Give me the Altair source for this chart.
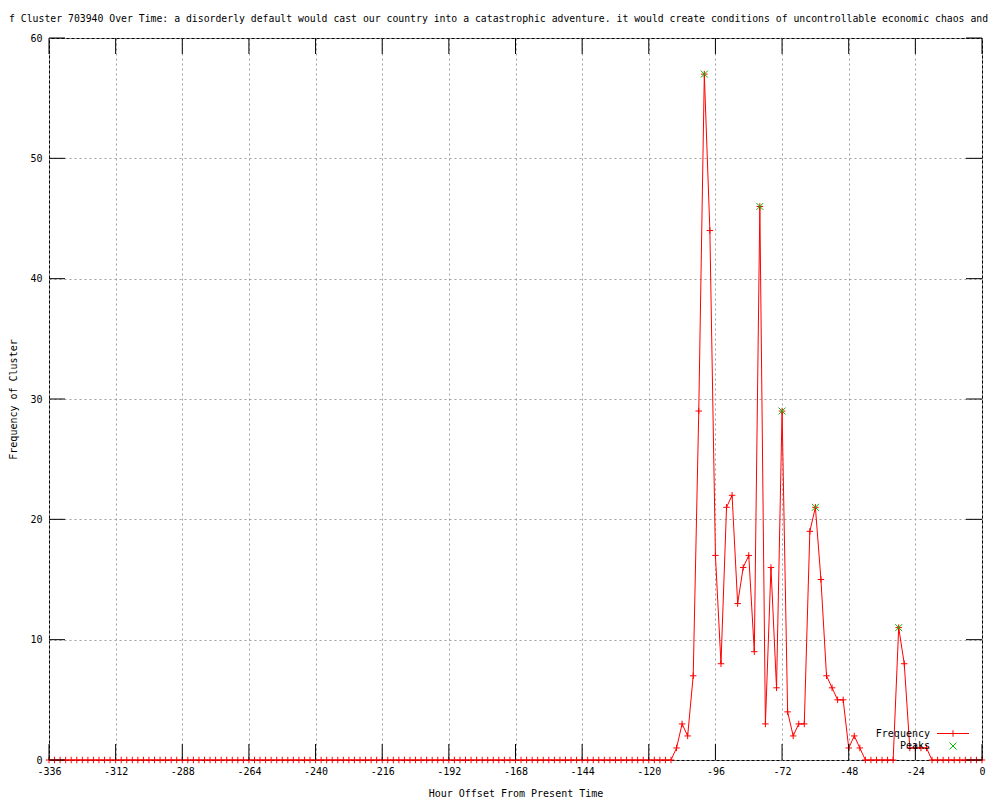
import altair as alt
import pandas as pd

# ---- data (2-hour bins) ----
hours = list(range(-336, 1, 2))
freq = [
    0, 0, 0, 0, 0, 0, 0, 0, 0, 0, 0, 0, 0, 0, 0, 0, 0, 0, 0, 0,
    0, 0, 0, 0, 0, 0, 0, 0, 0, 0, 0, 0, 0, 0, 0, 0, 0, 0, 0, 0,
    0, 0, 0, 0, 0, 0, 0, 0, 0, 0, 0, 0, 0, 0, 0, 0, 0, 0, 0, 0,
    0, 0, 0, 0, 0, 0, 0, 0, 0, 0, 0, 0, 0, 0, 0, 0, 0, 0, 0, 0,
    0, 0, 0, 0, 0, 0, 0, 0, 0, 0, 0, 0, 0, 0, 0, 0, 0, 0, 0, 0,
    0, 0, 0, 0, 0, 0, 0, 0, 0, 0, 0, 0, 0,
    1, 3, 2, 7, 29, 57, 44, 17, 8, 21, 22, 13, 16, 17, 9, 46, 3, 16, 6, 29,
    4, 2, 3, 3, 19, 21, 15, 7, 6, 5, 5, 1, 2, 1, 0, 0, 0, 0, 0, 0,
    11, 8, 1, 1, 1, 1,
    0, 0, 0, 0, 0, 0, 0, 0, 0, 0,
]
assert len(freq) == len(hours)

peak_hours = [-100, -80, -72, -60, -30]
peak_values = [57, 46, 29, 21, 11]

x_ticks = [-336, -312, -288, -264, -240, -216, -192, -168, -144, -120, -96, -72, -48, -24, 0]
y_ticks = [0, 10, 20, 30, 40, 50, 60]

TITLE = ("f Cluster 703940 Over Time: a disorderly default would cast our country into a "
         "catastrophic adventure. it would create conditions of uncontrollable economic chaos and")
X_TITLE = "Hour Offset From Present Time"
Y_TITLE = "Frequency of Cluster"
LEGEND_LABELS = ["Frequency", "Peaks"]

# ---- styling ----
FONT = "DejaVu Sans Mono"
RED = "#ff0000"
GREEN = "#00c000"
W, H = 933, 722
TICK = 16
PLUS = "M-1,0L1,0M0,-1L0,1"
XSHAPE = "M-1,-1L1,1M1,-1L-1,1"

df = pd.DataFrame({"hour": hours, "freq": freq})
peaks_df = pd.DataFrame({"hour": peak_hours, "freq": peak_values})
xt_df = pd.DataFrame({"hour": x_ticks})
yt_df = pd.DataFrame({"freq": y_ticks})
one = pd.DataFrame({"k": [0]})

xscale = alt.Scale(domain=[-336, 0], nice=False, zero=False)
yscale = alt.Scale(domain=[0, 60], nice=False)

x_axis = alt.Axis(values=x_ticks, title=X_TITLE, grid=True, labelExpr="'' + datum.value",
                  labelPadding=6, titleX=W / 2, titleY=33, titleBaseline="middle",
                  titleAlign="center")
y_axis = alt.Axis(values=y_ticks, title=Y_TITLE, grid=True, labelExpr="'' + datum.value",
                  labelPadding=7, titleX=-36, titleY=H / 2, titleAngle=270,
                  titleBaseline="middle", titleAlign="center")


def X():
    return alt.X("hour:Q", scale=xscale, axis=x_axis, title=X_TITLE)


def Y():
    return alt.Y("freq:Q", scale=yscale, axis=y_axis, title=Y_TITLE)


line = alt.Chart(df).mark_line(color=RED, strokeWidth=1).encode(x=X(), y=Y())
points = alt.Chart(df).mark_point(shape=PLUS, filled=False, color=RED, size=42,
                                  strokeWidth=1, opacity=1).encode(x=X(), y=Y())
peaks = alt.Chart(peaks_df).mark_point(shape=XSHAPE, filled=False, color=GREEN, size=49,
                                       strokeWidth=1, opacity=1).encode(x=X(), y=Y())

# inward tick marks (gnuplot style)
tick_bottom = alt.Chart(xt_df).mark_rule(color="black", strokeWidth=1).encode(
    x=X(), y=alt.value(H), y2=alt.value(H - TICK))
tick_top = alt.Chart(xt_df).mark_rule(color="black", strokeWidth=1).encode(
    x=X(), y=alt.value(0), y2=alt.value(TICK))
tick_left = alt.Chart(yt_df).mark_rule(color="black", strokeWidth=1).encode(
    y=Y(), x=alt.value(0), x2=alt.value(TICK))
tick_right = alt.Chart(yt_df).mark_rule(color="black", strokeWidth=1).encode(
    y=Y(), x=alt.value(W - TICK), x2=alt.value(W))

# key (bottom right, inside the plot)
LX_TEXT, LX0, LX1, LXM = 881, 888, 920, 904
LY1, LY2 = 695.5, 708
leg_t1 = alt.Chart(one).mark_text(align="right", baseline="middle", font=FONT, fontSize=10,
                                  color="black", text=LEGEND_LABELS[0]).encode(
    x=alt.value(LX_TEXT), y=alt.value(LY1))
leg_t2 = alt.Chart(one).mark_text(align="right", baseline="middle", font=FONT, fontSize=10,
                                  color="black", text=LEGEND_LABELS[1]).encode(
    x=alt.value(LX_TEXT), y=alt.value(LY2))
leg_line = alt.Chart(one).mark_rule(color=RED, strokeWidth=1).encode(
    x=alt.value(LX0), x2=alt.value(LX1), y=alt.value(LY1))
leg_plus = alt.Chart(one).mark_point(shape=PLUS, filled=False, color=RED, size=42,
                                     strokeWidth=1, opacity=1).encode(
    x=alt.value(LXM), y=alt.value(LY1))
leg_x = alt.Chart(one).mark_point(shape=XSHAPE, filled=False, color=GREEN, size=49,
                                  strokeWidth=1, opacity=1).encode(
    x=alt.value(LXM), y=alt.value(LY2))

chart = alt.layer(
    line, points, peaks, tick_bottom, tick_top, tick_left, tick_right,
    leg_line, leg_plus, leg_x, leg_t1, leg_t2,
).properties(
    width=W, height=H,
    autosize=alt.AutoSizeParams(type="none"),
    padding={"left": 41, "top": 30, "right": 10, "bottom": 42},
    title=alt.TitleParams(text=TITLE, anchor="start", frame="group", dx=-40, offset=4,
                          baseline="middle", font=FONT, fontSize=9.8, fontWeight="normal",
                          color="black"),
).configure_view(
    stroke="black", strokeWidth=1
).configure_axis(
    labelFont=FONT, labelFontSize=10, labelColor="black",
    titleFont=FONT, titleFontSize=10, titleFontWeight="normal", titleColor="black",
    gridColor="#a0a0a0", gridDash=[2, 3], gridWidth=1,
    tickSize=0, ticks=False, domain=False, labelFlush=False, labelOverlap=False,
)

chart.save("out.html", embed_options={"renderer": "svg", "actions": False})
